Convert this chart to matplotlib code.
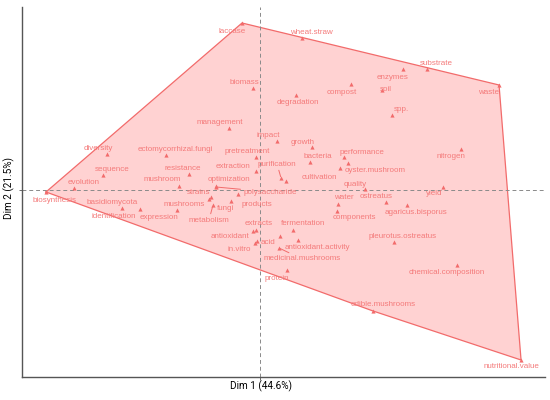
import matplotlib
matplotlib.use("Agg")
import matplotlib.pyplot as plt
import numpy as np

# ---- data (MCA coordinates, Dim 1 / Dim 2) ----
labels = ["laccase", "wheat.straw", "substrate", "enzymes", "waste", "compost", "soil",
          "biomass", "degradation", "spp.", "management", "impact", "growth", "nitrogen",
          "diversity", "ectomycorrhizal.fungi", "pretreatment", "purification", "bacteria",
          "performance", "sequence", "resistance", "extraction", "oyster.mushroom",
          "cultivation", "quality", "evolution", "mushroom", "optimization", "yield",
          "biosynthesis", "strains", "polysaccharide", "water", "ostreatus", "basidiomycota",
          "mushrooms", "fungi", "products", "agaricus.bisporus", "identification",
          "expression", "metabolism", "components", "extracts", "fermentation",
          "antioxidant", "acid", "antioxidant.activity", "pleurotus.ostreatus", "in.vitro",
          "medicinal.mushrooms", "chemical.composition", "protein", "edible.mushrooms",
          "nutritional.value"]
dim1 = [-0.09, 0.21, 0.835, 0.715, 1.195, 0.455, 0.61,
        -0.035, 0.18, 0.66, -0.155, 0.085, 0.26, 1.005,
        -0.765, -0.47, -0.02, 0.105, 0.25,
        0.42, -0.785, -0.355, -0.02, 0.44,
        0.40, 0.525, -0.93, -0.405, -0.22, 0.915,
        -1.07, -0.245, -0.22, 0.39, 0.63, -0.69,
        -0.255, -0.145, -0.11, 0.735, -0.60,
        -0.415, -0.235, 0.385, -0.02, 0.165,
        -0.035, -0.015, 0.19, 0.67, -0.025,
        0.095, 0.985, 0.135, 0.565,
        1.305]
dim2 = [0.835, 0.76, 0.605, 0.605, 0.525, 0.53, 0.50,
        0.51, 0.475, 0.375, 0.31, 0.245, 0.215, 0.205,
        0.18, 0.175, 0.165, 0.06, 0.14,
        0.165, 0.075, 0.08, 0.095, 0.135,
        0.11, 0.005, 0.01, 0.02, 0.02, 0.015,
        -0.01, -0.035, 0.015, -0.07, -0.06, -0.09,
        -0.045, -0.055, -0.02, -0.075, -0.095,
        -0.10, -0.075, -0.105, -0.20, -0.20,
        -0.205, -0.255, -0.25, -0.26, -0.265,
        -0.29, -0.375, -0.40, -0.605,
        -0.85]
# points whose labels were dropped (too many overlaps)
unlabeled_dim1 = [0.13, 0.10]
unlabeled_dim2 = [0.045, -0.23]

x_title = "Dim 1 (44.6%)"
y_title = "Dim 2 (21.5%)"

# ---- label layout (pixel offsets of label centre from point; + right / + down) ----
label_offsets = {
    "laccase": (-10, 8), "wheat.straw": (9, -6), "substrate": (9, -6), "enzymes": (-10, 8),
    "waste": (-11, 7), "compost": (-9, 8), "soil": (4, -1), "biomass": (-9, -6),
    "degradation": (2, 7), "spp.": (9, -6), "management": (-9, -6), "impact": (-9, -6),
    "growth": (-9, -5), "nitrogen": (-10, 7), "diversity": (-9, -6),
    "ectomycorrhizal.fungi": (9, -6), "pretreatment": (-9, -6), "purification": (-4, -14),
    "bacteria": (8, -6), "performance": (18, -5), "sequence": (9, -6), "resistance": (-6, -6),
    "extraction": (-23, -5), "oyster.mushroom": (27, 7), "cultivation": (-21, 9),
    "quality": (-10, -5), "evolution": (10, -6), "mushroom": (-17, -7),
    "optimization": (13, -7), "yield": (-9, 6), "biosynthesis": (9, 8), "strains": (-12, -5),
    "polysaccharide": (54, 5), "water": (6, -7), "ostreatus": (-10, -6),
    "basidiomycota": (-10, -6), "mushrooms": (-25, 5), "fungi": (-6, 7), "products": (19, 10),
    "agaricus.bisporus": (9, 7), "identification": (-26, 7), "expression": (-18, 7),
    "metabolism": (-4, 15), "components": (17, 6), "extracts": (3, -7),
    "fermentation": (10, -7), "antioxidant": (-23, 5), "acid": (11, 1),
    "antioxidant.activity": (19, 7), "pleurotus.ostreatus": (9, -6), "in.vitro": (-16, 6),
    "medicinal.mushrooms": (23, 11), "chemical.composition": (-10, 7), "protein": (-10, 8),
    "edible.mushrooms": (10, -6), "nutritional.value": (-10, 7),
}
segment_labels = {"purification", "polysaccharide", "metabolism", "medicinal.mushrooms"}

pt_color = "#F26B6B"
txt_color = "#F47A7A"
fill_color = "#FFD2D2"


def convex_hull(pts):
    pts = sorted(set(pts))
    def cross(o, a, b):
        return (a[0] - o[0]) * (b[1] - o[1]) - (a[1] - o[1]) * (b[0] - o[0])
    lower, upper = [], []
    for p in pts:
        while len(lower) >= 2 and cross(lower[-2], lower[-1], p) <= 0:
            lower.pop()
        lower.append(p)
    for p in reversed(pts):
        while len(upper) >= 2 and cross(upper[-2], upper[-1], p) <= 0:
            upper.pop()
        upper.append(p)
    return lower[:-1] + upper[:-1]


fig = plt.figure(figsize=(5.5, 4), dpi=100)
ax = fig.add_axes([0.04, 0.0575, 0.951, 0.925])
ax.set_xlim(-1.19, 1.425)
ax.set_ylim(-0.935, 0.915)

all_x = list(dim1) + unlabeled_dim1
all_y = list(dim2) + unlabeled_dim2
hull = convex_hull(list(zip(all_x, all_y)))
hx = [p[0] for p in hull] + [hull[0][0]]
hy = [p[1] for p in hull] + [hull[0][1]]
ax.fill(hx, hy, color=fill_color, zorder=1, lw=0)
ax.plot(hx, hy, color=pt_color, lw=0.9, zorder=2)

ax.axhline(0, color="#8a8a8a", lw=0.7, ls=(0, (4, 3)), zorder=2)
ax.axvline(0, color="#8a8a8a", lw=0.7, ls=(0, (4, 3)), zorder=2)

ax.scatter(all_x, all_y, marker="^", s=9, color=pt_color, lw=0, zorder=3)

for name, x, y in zip(labels, dim1, dim2):
    dx, dy = label_offsets[name]
    kw = {}
    if name in segment_labels:
        kw["arrowprops"] = dict(arrowstyle="-", color=pt_color, lw=0.7,
                                shrinkA=0, shrinkB=1)
    ax.annotate(name, (x, y), xytext=(dx, -dy), textcoords="offset pixels",
                ha="center", va="center", fontsize=5.8, color=txt_color,
                family="Liberation Sans", zorder=4, **kw)

for s in ["top", "right"]:
    ax.spines[s].set_visible(False)
for s in ["left", "bottom"]:
    ax.spines[s].set_color("#555555")
    ax.spines[s].set_linewidth(1.0)
ax.set_xticks([0])
ax.set_yticks([0])
ax.set_xticklabels([])
ax.set_yticklabels([])
ax.tick_params(length=2, color="#555555", width=0.6)

ax.set_xlabel(x_title, fontsize=7.2, family="Roboto")
ax.set_ylabel(y_title, fontsize=7.2, family="Roboto")
ax.xaxis.set_label_coords(0.457, -0.009)
ax.yaxis.set_label_coords(-0.014, 0.51)

fig.savefig("out.png", dpi=100)
